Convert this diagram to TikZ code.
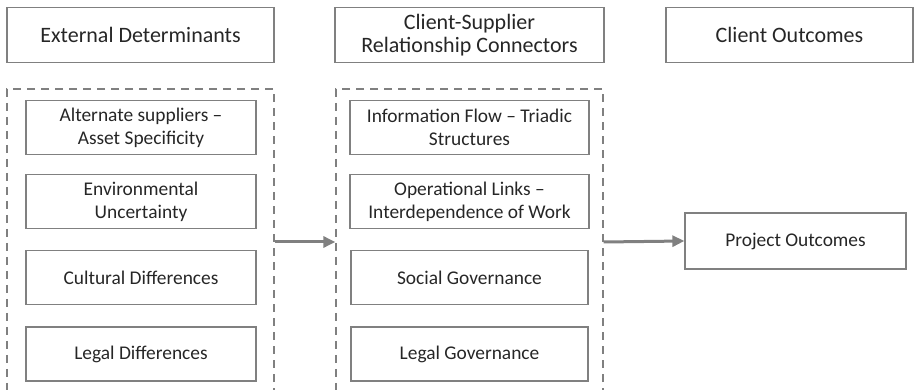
\documentclass[tikz,border=0pt]{standalone}
\usepackage{fontspec}
\setmainfont{Carlito}
\usetikzlibrary{arrows.meta}
\definecolor{edge}{RGB}{128,128,128}
\definecolor{ink}{RGB}{38,38,38}
\tikzset{
  headbox/.style={draw=edge, line width=1.3pt, rectangle, inner sep=0pt, align=center,
    text=ink, minimum height=55pt, font=\fontsize{22}{23.5}\selectfont},
  itembox/.style={draw=edge, line width=1.3pt, rectangle, inner sep=0pt, align=center,
    text=ink, minimum height=54pt, font=\fontsize{19.4}{23}\selectfont},
  groupbox/.style={draw=edge, line width=1.3pt, dash pattern=on 8pt off 6pt, rectangle,
    inner sep=0pt, minimum height=306pt, minimum width=267pt},
  flow/.style={draw=edge, line width=3pt, -{Triangle[length=12pt,width=11pt]}}
}
\begin{document}
\begin{tikzpicture}[x=1pt,y=-1pt]
\useasboundingbox (0,0) rectangle (914,390);
\clip (0,0) rectangle (914,390);
% headers
\node[headbox, minimum width=267pt] (h1) at (140.5,35) {External Determinants};
\node[headbox, minimum width=269pt] (h2) at (469.5,35) {Client-Supplier\\Relationship Connectors};
\node[headbox, minimum width=247pt] (h3) at (789.5,35) {Client Outcomes};
% groups
\node[groupbox] (g1) at (140.5,242) {};
\node[groupbox] (g2) at (469.5,242) {};
% column 1 items
\node[itembox, minimum width=230pt] (a1) at (141,127.5) {Alternate suppliers --\\Asset Specificity};
\node[itembox, minimum width=230pt] (a2) at (141,201.5) {Environmental\\Uncertainty};
\node[itembox, minimum width=230pt] (a3) at (141,277.5) {Cultural Differences};
\node[itembox, minimum width=230pt] (a4) at (141,354) {Legal Differences};
% column 2 items
\node[itembox, minimum width=239pt] (b1) at (469.5,127.5) {Information Flow -- Triadic\\Structures};
\node[itembox, minimum width=239pt] (b2) at (469.5,201.5) {Operational Links --\\Interdependence of Work};
\node[itembox, minimum width=237pt] (b3) at (469.5,277.5) {Social Governance};
\node[itembox, minimum width=237pt] (b4) at (469.5,354) {Legal Governance};
% outcome
\node[headbox, minimum width=221pt, minimum height=56pt, font=\fontsize{19.4}{23}\selectfont] (po) at (795.5,241) {Project Outcomes};
% arrows
\draw[flow] (g1.east) -- (g2.west);
\draw[flow] (g2.east) -- (po.west);
\end{tikzpicture}
\end{document}
